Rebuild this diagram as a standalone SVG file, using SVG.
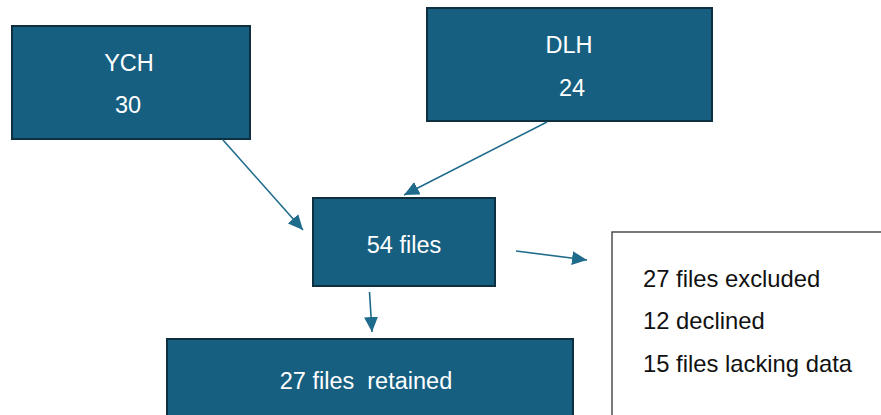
<svg xmlns="http://www.w3.org/2000/svg" width="881" height="415" viewBox="0 0 881 415">
<style>
.node{fill:#175f80;stroke:#0e2f3f;stroke-width:2}
.nt{font-family:"Liberation Sans",Arial,sans-serif;font-size:23.5px;fill:#ffffff;text-anchor:middle}
.bt{font-family:"Liberation Sans",Arial,sans-serif;font-size:23.8px;fill:#111111}
.conn{stroke:#1f6b8c;stroke-width:1.6;fill:none;marker-end:url(#ah)}
</style>
<defs>
<marker id="ah" markerUnits="userSpaceOnUse" markerWidth="16" markerHeight="14" refX="15" refY="7" orient="auto">
<path d="M0,0 L15,7 L0,14 Z" fill="#1f6b8c"/>
</marker>
</defs>
<rect width="881" height="415" fill="#ffffff"/>
<g id="ych">
<rect class="node" x="12" y="26" width="238" height="113"/>
<text class="nt" x="129" y="71">YCH</text>
<text class="nt" x="128" y="113">30</text>
</g>
<g id="dlh">
<rect class="node" x="427" y="8" width="285" height="113"/>
<text class="nt" x="569" y="53">DLH</text>
<text class="nt" x="572" y="96">24</text>
</g>
<g id="files54">
<rect class="node" x="313" y="198" width="182" height="88"/>
<text class="nt" x="404" y="253">54 files</text>
</g>
<g id="retained">
<rect class="node" x="167" y="339" width="406" height="90"/>
<text class="nt" x="366" y="389" xml:space="preserve">27 files  retained</text>
</g>
<g id="excluded">
<rect x="612" y="232" width="300" height="220" fill="#ffffff" stroke="#333333" stroke-width="1.3"/>
<text class="bt" x="643" y="287">27 files excluded</text>
<text class="bt" x="643" y="329">12 declined</text>
<text class="bt" x="643" y="372">15 files lacking data</text>
</g>
<g id="connectors">
<line class="conn" x1="223" y1="140" x2="303" y2="230"/>
<line class="conn" x1="547" y1="122" x2="404" y2="195"/>
<line class="conn" x1="516" y1="251" x2="587" y2="260"/>
<line class="conn" x1="369.5" y1="292" x2="372" y2="332"/>
</g>
</svg>
